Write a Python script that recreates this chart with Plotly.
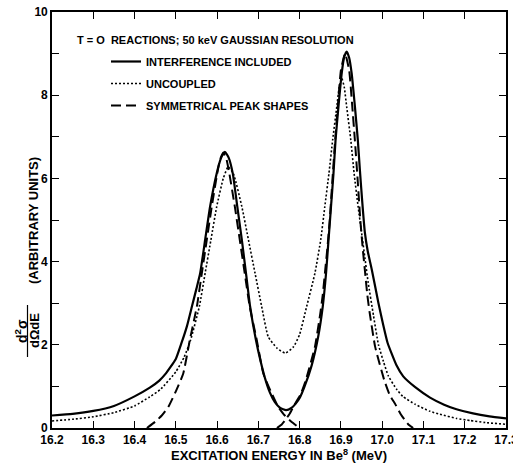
import plotly.graph_objects as go

# ---- data ----
e_solid = [16.20, 16.25, 16.30, 16.35, 16.40, 16.437, 16.46, 16.475, 16.50, 16.514, 16.527, 16.539,
           16.55, 16.559, 16.571, 16.583, 16.599, 16.61, 16.619, 16.628, 16.638, 16.649, 16.66, 16.67,
           16.68, 16.694, 16.705, 16.716, 16.728, 16.74, 16.753, 16.767, 16.78, 16.79, 16.80, 16.812,
           16.829, 16.845, 16.856, 16.864, 16.87, 16.876, 16.882, 16.887, 16.894, 16.902, 16.908, 16.914,
           16.92, 16.926, 16.934, 16.941, 16.946, 16.952, 16.958, 16.965, 16.975, 16.991, 17.002, 17.013,
           17.035, 17.051, 17.08, 17.116, 17.15, 17.18, 17.22, 17.26, 17.30]
v_solid = [0.30, 0.34, 0.41, 0.53, 0.76, 0.97, 1.14, 1.30, 1.66, 2.05, 2.45, 2.92,
           3.35, 3.72, 4.52, 5.32, 6.12, 6.50, 6.64, 6.50, 6.12, 5.32, 4.52, 3.72,
           2.92, 2.12, 1.62, 1.20, 0.85, 0.62, 0.48, 0.43, 0.48, 0.58, 0.72, 1.00,
           1.50, 2.20, 2.92, 3.72, 4.52, 5.32, 6.12, 6.92, 7.72, 8.53, 8.92, 9.05,
           8.90, 8.53, 7.72, 6.92, 6.20, 5.40, 4.70, 4.25, 3.80, 3.00, 2.50, 2.05,
           1.50, 1.24, 0.98, 0.73, 0.56, 0.45, 0.35, 0.28, 0.23]

e_dot = [16.20, 16.25, 16.30, 16.35, 16.40, 16.437, 16.462, 16.50, 16.52, 16.536, 16.557, 16.571,
         16.585, 16.599, 16.615, 16.627, 16.64, 16.66, 16.676, 16.692, 16.708, 16.724, 16.745, 16.765,
         16.785, 16.80, 16.817, 16.837, 16.851, 16.861, 16.871, 16.88, 16.89, 16.896, 16.902, 16.908,
         16.914, 16.924, 16.932, 16.942, 16.95, 16.958, 16.966, 16.979, 16.991, 17.003, 17.015, 17.035,
         17.051, 17.08, 17.116, 17.14, 17.18, 17.213, 17.25, 17.30]
v_dot = [0.17, 0.21, 0.27, 0.37, 0.53, 0.75, 0.92, 1.35, 1.70, 2.12, 2.92, 3.72,
         4.52, 5.32, 6.00, 6.28, 6.10, 5.32, 4.52, 3.72, 2.92, 2.19, 1.92, 1.80,
         1.95, 2.25, 2.92, 3.72, 4.52, 5.32, 6.12, 6.92, 7.72, 8.20, 8.41, 8.20,
         7.72, 6.92, 6.12, 5.30, 4.70, 4.10, 3.50, 2.70, 2.00, 1.60, 1.25, 0.93,
         0.75, 0.57, 0.40, 0.33, 0.23, 0.18, 0.13, 0.09]

e_dash_low = [16.43, 16.45, 16.466, 16.482, 16.50, 16.518, 16.534, 16.551, 16.563, 16.575, 16.587,
              16.60, 16.607, 16.615, 16.623, 16.63, 16.643, 16.655, 16.667, 16.679, 16.696, 16.712,
              16.73, 16.748, 16.764, 16.78, 16.80]
v_dash_low = [0.0, 0.15, 0.30, 0.51, 0.88, 1.31, 2.12, 2.92, 3.72, 4.52, 5.32,
              6.10, 6.45, 6.62, 6.45, 6.10, 5.32, 4.52, 3.72, 2.92, 2.12, 1.31,
              0.88, 0.51, 0.30, 0.15, 0.0]

e_dash_high = [16.745, 16.755, 16.765, 16.775, 16.787, 16.802, 16.815, 16.837, 16.85, 16.856, 16.862,
               16.867, 16.873, 16.879, 16.886, 16.893, 16.90, 16.91, 16.92, 16.927, 16.934, 16.941,
               16.947, 16.953, 16.958, 16.964, 16.97, 16.983, 17.005, 17.018, 17.033, 17.045, 17.055,
               17.065, 17.075]
v_dash_high = [0.0, 0.07, 0.19, 0.33, 0.55, 0.80, 1.15, 1.95, 2.75, 3.20, 3.80,
               4.30, 5.00, 5.90, 6.90, 7.80, 8.60, 9.00, 8.60, 7.80, 6.90, 5.90,
               5.00, 4.30, 3.80, 3.20, 2.75, 1.95, 1.15, 0.80, 0.55, 0.33, 0.19,
               0.07, 0.0]

x_tickvals = [16.2, 16.3, 16.4, 16.5, 16.6, 16.7, 16.8, 16.9, 17.0, 17.1, 17.2, 17.3]
x_ticktext = ["16.2", "16.3", "16.4", "16.5", "16.6", "16.7", "16.8", "16.9", "17.0", "17.1", "17.2", "17.3"]
y_tickvals = [0, 2, 4, 6, 8, 10]

legend_title = "T = O  REACTIONS; 50 keV GAUSSIAN RESOLUTION"
names = ["INTERFERENCE INCLUDED", "UNCOUPLED", "SYMMETRICAL PEAK SHAPES"]

FONT = "Liberation Sans Narrow, Arial Narrow, Liberation Sans, Arial, sans-serif"

fig = go.Figure()
fig.add_trace(go.Scatter(x=e_solid, y=v_solid, mode="lines", name=names[0], legendgroup="a",
                         line=dict(color="black", width=2.2, shape="spline", smoothing=0.45)))
fig.add_trace(go.Scatter(x=e_dot, y=v_dot, mode="lines", name=names[1], legendgroup="b",
                         line=dict(color="black", width=1.6, dash="2px,2px", shape="spline", smoothing=0.45)))
fig.add_trace(go.Scatter(x=e_dash_low, y=v_dash_low, mode="lines", name=names[2], legendgroup="c",
                         line=dict(color="black", width=2, dash="10px,5px", shape="spline", smoothing=0.45)))
fig.add_trace(go.Scatter(x=e_dash_high, y=v_dash_high, mode="lines", name=names[2], legendgroup="c",
                         showlegend=False,
                         line=dict(color="black", width=2, dash="10px,5px", shape="spline", smoothing=0.45)))

W, H = 513, 470
PL, PR, PT, PB = 52, 506, 12, 428          # plot area in window pixels
pw, ph = PR - PL, PB - PT

def px(xp):
    return (xp - PL) / pw

def py(yp):
    return (PB - yp) / ph

axis_common = dict(showline=True, linecolor="black", linewidth=1.6, mirror="ticks",
                   ticks="inside", ticklen=7, tickwidth=1.4, tickcolor="black",
                   showgrid=False, zeroline=False, automargin=False, ticklabeloverflow="allow",
                   tickfont=dict(family=FONT, size=12, color="black", weight="bold"))

fig.update_layout(
    width=W, height=H,
    margin=dict(l=PL, r=W - PR, t=PT, b=H - PB, autoexpand=False),
    paper_bgcolor="white", plot_bgcolor="white",
    showlegend=True,
    legend=dict(x=px(106), y=py(47), xanchor="left", yanchor="top",
                bgcolor="rgba(0,0,0,0)", borderwidth=0,
                font=dict(family=FONT, size=11, color="black", weight="bold"),
                traceorder="grouped", tracegroupgap=3, itemwidth=30),
    xaxis=dict(range=[16.2, 17.3], tickvals=x_tickvals, ticktext=x_ticktext, **axis_common),
    yaxis=dict(range=[0, 10], tickvals=y_tickvals,
               minor=dict(ticks="inside", dtick=1, ticklen=7, tickwidth=1.4, tickcolor="black",
                          showgrid=False),
               **axis_common),
)

ann_font = dict(family=FONT, size=11, color="black", weight="bold")
fig.add_annotation(text=legend_title, xref="paper", yref="paper", x=px(75), y=py(40),
                   xanchor="left", yanchor="middle", showarrow=False, font=ann_font)
fig.add_annotation(text="EXCITATION ENERGY IN Be<sup>8</sup> (MeV)", xref="paper", yref="paper",
                   x=px(279), y=py(455), xanchor="center", yanchor="middle", showarrow=False,
                   font=dict(family=FONT, size=13, color="black", weight="bold"))
fig.add_annotation(text="(ARBITRARY UNITS)", xref="paper", yref="paper", x=px(33), y=py(221),
                   xanchor="center", yanchor="middle", textangle=-90, showarrow=False,
                   font=dict(family=FONT, size=13, color="black", weight="bold"))
fig.add_annotation(text="dΩdE", xref="paper", yref="paper", x=px(34), y=py(331),
                   xanchor="center", yanchor="middle", textangle=-90, showarrow=False,
                   font=dict(family=FONT, size=13, color="black", weight="bold"))
fig.add_annotation(text="d<sup>2</sup>σ", xref="paper", yref="paper", x=px(21), y=py(331),
                   xanchor="center", yanchor="middle", textangle=-90, showarrow=False,
                   font=dict(family=FONT, size=14, color="black", weight="bold"))
fig.add_shape(type="line", xref="paper", yref="paper", x0=px(27.5), x1=px(27.5), y0=py(305), y1=py(357),
              line=dict(color="black", width=1.2))

# the page body has a default 8px margin; remove it so the figure fills the window exactly
fig.write_html("out.html", config={"displayModeBar": False},
               post_script="document.body.style.margin='0';")
